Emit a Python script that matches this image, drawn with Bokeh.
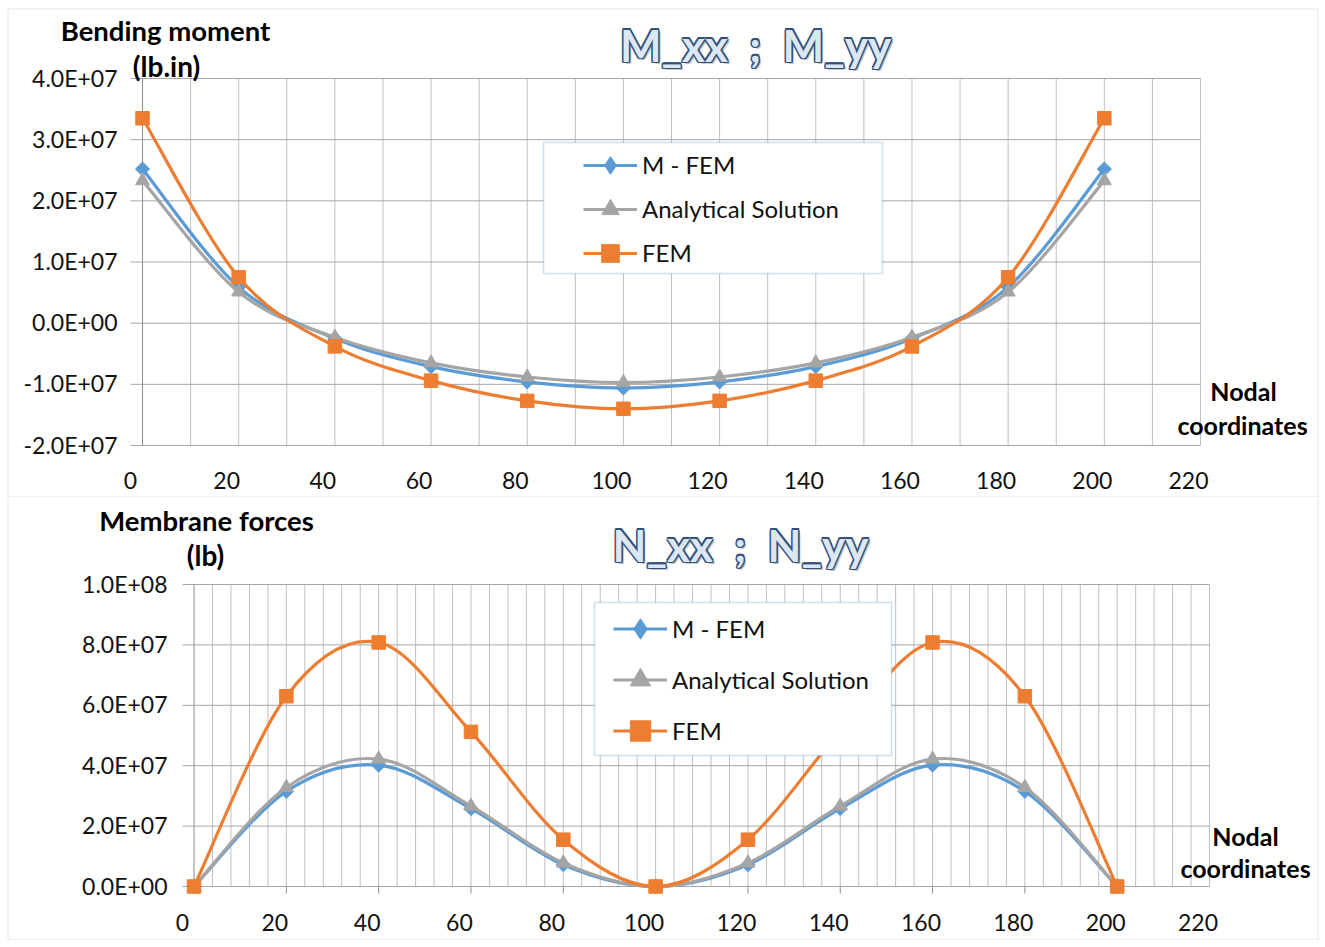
from bokeh.plotting import figure
from bokeh.models import (Label, Legend, LegendItem, BoxAnnotation, ColumnDataSource, Range1d)
from bokeh.core.properties import value
from bokeh.layouts import column
from bokeh.embed import file_html
from bokeh.resources import INLINE

# ---------------- data ----------------
x_nodes = [2.5, 22.5, 42.5, 62.5, 82.5, 102.5, 122.5, 142.5, 162.5, 182.5, 202.5]

m_mfem = [2.52e7, 0.59e7, -0.25e7, -0.71e7, -0.96e7, -1.06e7, -0.96e7, -0.71e7, -0.25e7, 0.59e7, 2.52e7]
m_analytical = [2.33e7, 0.51e7, -0.23e7, -0.65e7, -0.88e7, -0.97e7, -0.88e7, -0.65e7, -0.23e7, 0.51e7, 2.33e7]
m_fem = [3.35e7, 0.75e7, -0.38e7, -0.94e7, -1.27e7, -1.40e7, -1.27e7, -0.94e7, -0.38e7, 0.75e7, 3.35e7]

n_mfem = [0.0, 3.15e7, 4.02e7, 2.58e7, 0.72e7, 0.0, 0.72e7, 2.58e7, 4.02e7, 3.15e7, 0.0]
n_analytical = [0.0, 3.28e7, 4.22e7, 2.66e7, 0.78e7, 0.0, 0.78e7, 2.66e7, 4.22e7, 3.28e7, 0.0]
n_fem = [0.0, 6.30e7, 8.08e7, 5.12e7, 1.55e7, 0.0, 1.55e7, 5.12e7, 8.08e7, 6.30e7, 0.0]

series_names = ["M - FEM", "Analytical Solution", "FEM"]

x_tick_values = [0, 20, 40, 60, 80, 100, 120, 140, 160, 180, 200, 220]
x_tick_labels = ["0", "20", "40", "60", "80", "100", "120", "140", "160", "180", "200", "220"]

m_y_ticks = [-2e7, -1e7, 0, 1e7, 2e7, 3e7, 4e7]
m_y_labels = ["-2.0E+07", "-1.0E+07", "0.0E+00", "1.0E+07", "2.0E+07", "3.0E+07", "4.0E+07"]

n_y_ticks = [0, 2e7, 4e7, 6e7, 8e7, 1e8]
n_y_labels = ["0.0E+00", "2.0E+07", "4.0E+07", "6.0E+07", "8.0E+07", "1.0E+08"]

m_title = "M_xx\u00a0\u00a0;\u00a0\u00a0M_yy"
n_title = "N_xx\u00a0\u00a0;\u00a0\u00a0N_yy"

BLUE = "#5b9bd5"
GRAY = "#a5a5a5"
ORANGE = "#ed7d31"
FONT = "Lato"
X_MIN, X_MAX = 0.0, 222.5
AXIS_X = 2.5


def smooth_source(xs, ys):
    """Excel-like smoothed line: cubic Bezier segments with Catmull-Rom control points."""
    n = len(xs)
    d = dict(x0=[], y0=[], x1=[], y1=[], cx0=[], cy0=[], cx1=[], cy1=[])
    for i in range(n - 1):
        ip = i - 1 if i > 0 else i
        inn = i + 2 if i + 2 < n else i + 1
        d["x0"].append(xs[i]); d["y0"].append(ys[i])
        d["x1"].append(xs[i + 1]); d["y1"].append(ys[i + 1])
        d["cx0"].append(xs[i] + (xs[i + 1] - xs[ip]) / 6.0)
        d["cy0"].append(ys[i] + (ys[i + 1] - ys[ip]) / 6.0)
        d["cx1"].append(xs[i + 1] - (xs[inn] - xs[i]) / 6.0)
        d["cy1"].append(ys[i + 1] - (ys[inn] - ys[i]) / 6.0)
    return ColumnDataSource(d)


def make_panel(W, H, pa, y_ticks, y_labels, grid_step, series, title, ytitles,
               text_pos, legend_box, legend_glyph_x, legend_row, ylab_off, xlab_off,
               with_ticks, border_top):
    pl, pr, pt, pb = pa           # plot-area pixel edges on this canvas
    y0, y1 = y_ticks[0], y_ticks[-1]
    sx = (pr - pl) / (X_MAX - X_MIN)
    sy = (pb - pt) / (y1 - y0)

    def X(px):
        return X_MIN + (px - pl) / sx

    def Y(py):
        return y1 - (py - pt) / sy

    p = figure(width=W, height=H, x_range=Range1d(X(0), X(W)), y_range=Range1d(Y(H), Y(0)),
               output_backend="svg", toolbar_location=None,
               x_axis_type=None, y_axis_type=None,
               min_border_left=0, min_border_right=0, min_border_top=0, min_border_bottom=0)
    p.outline_line_color = None
    p.background_fill_color = "white"
    p.border_fill_color = "white"
    p.grid.visible = False

    # gridlines
    gx = [AXIS_X + grid_step * k for k in range(1, int(220 / grid_step) + 1)]
    p.segment(x0=gx, y0=[y0] * len(gx), x1=gx, y1=[y1] * len(gx), line_color="#c0c0c0", line_width=1)
    p.segment(x0=[X_MIN] * len(y_ticks), y0=y_ticks, x1=[X_MAX] * len(y_ticks), y1=y_ticks,
              line_color="#a6a6a6", line_width=1)
    p.segment(x0=[AXIS_X], y0=[y0], x1=[AXIS_X], y1=[y1], line_color="#8c8c8c", line_width=1)
    if with_ticks:
        tx = [AXIS_X + 20 * k for k in range(11)]
        p.segment(x0=tx, y0=[y0] * len(tx), x1=tx, y1=[Y(pb + 7)] * len(tx),
                  line_color="#8c8c8c", line_width=1)

    # tick labels
    p.text(x=[X_MIN] * len(y_ticks), y=y_ticks, text=y_labels, x_offset=ylab_off, y_offset=-1,
           text_align="right", text_baseline="middle", text_font=value(FONT),
           text_font_size="23px", text_color="#111111")
    p.text(x=x_tick_values, y=[y0] * len(x_tick_values), text=x_tick_labels, y_offset=xlab_off,
           text_align="center", text_baseline="middle", text_font=value(FONT),
           text_font_size="23px", text_color="#111111")

    # series
    items = []
    for (ys, color, marker, size, angle, lmarker, lsize), name in zip(series, series_names):
        src = smooth_source(x_nodes, ys)
        lr = p.bezier(x0="x0", y0="y0", x1="x1", y1="y1", cx0="cx0", cy0="cy0",
                      cx1="cx1", cy1="cy1", source=src, line_color=color, line_width=3.2)
        sr = p.scatter(x_nodes, ys, marker=marker, size=size, angle=angle,
                       fill_color=color, line_color=color)
        if lmarker != marker:
            leg_sr = p.scatter(x=[X(-100)], y=[Y(-100)], marker=lmarker, size=lsize,
                               fill_color=color, line_color=color)
            items.append(LegendItem(label=name, renderers=[lr, leg_sr]))
        else:
            items.append(LegendItem(label=name, renderers=[lr, sr]))

    # legend box + legend
    bl, br, bt, bb = legend_box
    p.add_layout(BoxAnnotation(left=X(bl), right=X(br), top=Y(bt), bottom=Y(bb),
                               fill_color="white", fill_alpha=1.0,
                               line_color="#5b9bd5", line_width=1.6))
    nrow = len(items)
    leg = Legend(items=items, location=(legend_glyph_x, H - (bt + 0.5 + nrow * legend_row)),
                 padding=0, spacing=0, margin=0,
                 glyph_width=54, glyph_height=legend_row, label_height=legend_row,
                 label_standoff=5, border_line_color=None, background_fill_alpha=0,
                 label_text_font=FONT, label_text_font_size="24px",
                 label_text_color="#111111")
    p.add_layout(leg)

    # panel border
    p.add_layout(BoxAnnotation(left=X(7.5), right=X(1317.5), top=Y(border_top), bottom=Y(H - 0.5),
                               fill_alpha=0, line_color="#a6a6a6", line_width=1))

    # big outlined title (shadow, thick outline, light fill)
    (tx_, ty_), (a1x, a1y), (a2x, a2y), (n1x, n1y), (n2x, n2y) = text_pos
    tfs = 44
    ty_c = ty_ - 0.34 * tfs - 3
    common = dict(x=X(tx_), y=Y(ty_c), text=title, text_align="center",
                  text_baseline="alphabetic", text_font=FONT, text_font_style="bold",
                  text_font_size=f"{tfs}px")
    p.add_layout(Label(x_offset=2.5, y_offset=-2.5, text_color="#7f7f7f", text_alpha=0.45, **common))
    for dx, dy in [(-1.5, 0), (1.5, 0), (0, -1.5), (0, 1.5), (-1.1, -1.1), (1.1, 1.1), (-1.1, 1.1), (1.1, -1.1)]:
        p.add_layout(Label(x_offset=dx, y_offset=dy, text_color="#34507a", **common))
    p.add_layout(Label(text_color="#dce7f4", **common))

    for (lx, ly, t, fs) in [(a1x, a1y, ytitles[0], 27.5), (a2x, a2y, ytitles[1], 28),
                            (n1x, n1y, "Nodal", 25), (n2x, n2y, "coordinates", 25)]:
        p.add_layout(Label(x=X(lx), y=Y(ly - 0.36 * fs), text=t,
                           text_align="center", text_baseline="alphabetic",
                           text_font=FONT, text_font_style="bold", text_font_size=f"{fs}px",
                           text_color="#000000"))
    return p


top_series = [(m_mfem, BLUE, "square", 10, 0.785398, "diamond", 15),
              (m_analytical, GRAY, "triangle", 14, 0.0, "triangle", 14),
              (m_fem, ORANGE, "square", 13.5, 0.0, "square", 13.5)]
bot_series = [(n_mfem, BLUE, "square", 10, 0.785398, "diamond", 15),
              (n_analytical, GRAY, "triangle", 14, 0.0, "triangle", 14),
              (n_fem, ORANGE, "square", 13.5, 0.0, "square", 13.5)]

W = 1320
H1 = 497
H2 = 443
OFF2 = 497   # page y of second canvas

p1 = make_panel(W, H1, (130, 1200, 78, 445), m_y_ticks, m_y_labels, 10, top_series,
                m_title, ("Bending moment", "(lb.in)"),
                [(755, 62), (165, 40), (166, 76), (1243, 399), (1242, 433)],
                (543, 882, 142, 273), 583, 44, -13, 35, False, 8.5)
p2 = make_panel(W, H2, (182, 1209, 584 - OFF2, 886 - OFF2), n_y_ticks, n_y_labels, 4, bot_series,
                n_title, ("Membrane forces", "(lb)"),
                [(740, 562 - OFF2), (206, 530 - OFF2), (205, 565 - OFF2),
                 (1245, 844 - OFF2), (1245, 876 - OFF2)],
                (594, 891, 602 - OFF2, 755 - OFF2), 613, 51, -15, 36, True, -5)

layout = column(p1, p2, spacing=0)
open("out.html", "w").write(file_html(layout, INLINE))
